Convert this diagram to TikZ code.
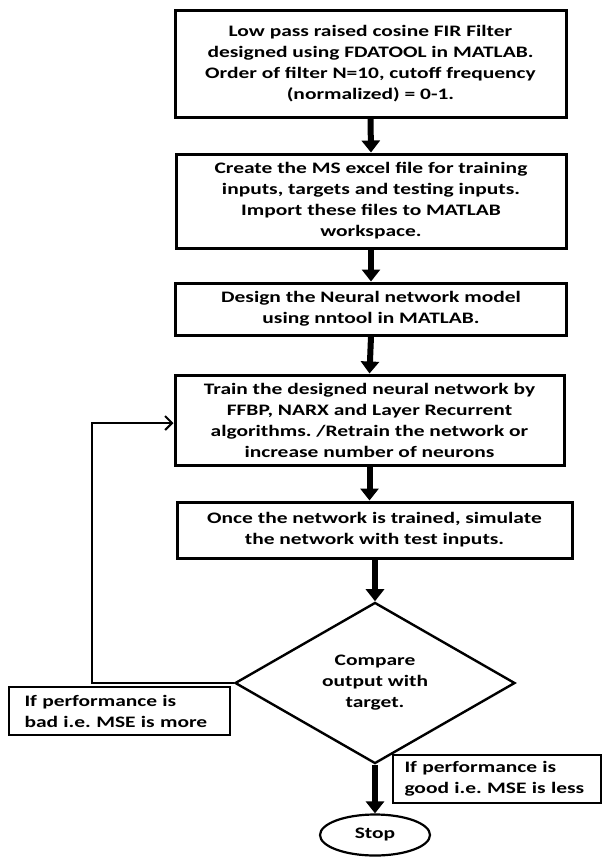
\documentclass[tikz,border=0pt]{standalone}
\usepackage{fontspec}
\setmainfont{Carlito}[FakeStretch=1.34]
\usetikzlibrary{arrows.meta,shapes.geometric,calc}
\tikzset{
  stepbox/.style={draw=black, line width=3pt, fill=white, align=center, inner sep=2pt,
    font=\bfseries\fontsize{16}{21}\selectfont},
  labelbox/.style={draw=black, line width=1.8pt, fill=white, align=left, inner sep=0pt,
    font=\bfseries\fontsize{16}{21}\selectfont},
  decision/.style={draw=black, line width=2.4pt, shape=diamond, inner sep=0pt, align=center,
    minimum width=280pt, minimum height=142pt, font=\bfseries\fontsize{16}{21}\selectfont},
  stopnode/.style={draw=black, line width=2.2pt, shape=ellipse, inner sep=0pt,
    minimum width=110pt, minimum height=41pt, font=\bfseries\fontsize{16}{21}\selectfont},
  bigarrow/.style={line width=6pt, -{Triangle[width=18pt,length=12pt]}},
  looparrow/.style={line width=2pt, -{Straight Barb[width=14pt,length=7pt,line width=2pt]}}
}
\frenchspacing
\begin{document}
\begin{tikzpicture}[x=1pt,y=-1pt]
\useasboundingbox[fill=white] (0,0) rectangle (603,857);

\node[stepbox, minimum width=391pt, minimum height=107pt] (b1) at (370.5,63.5)
  {Low pass raised cosine FIR Filter\\designed using FDATOOL in MATLAB.\\Order of filter N=10, cutoff frequency\\(normalized) = 0-1.};
\node[stepbox, minimum width=390pt, minimum height=94pt] (b2) at (371,201)
  {Create the MS excel file for training\\inputs, targets and testing inputs.\\Import these files to MATLAB\\workspace.};
\node[stepbox, minimum width=391pt, minimum height=52pt] (b3) at (371,309)
  {Design the Neural network model\\using nntool in MATLAB.};
\node[stepbox, minimum width=389pt, minimum height=90pt] (b4) at (369.5,420)
  {Train the designed neural network by\\FFBP, NARX and Layer Recurrent\\algorithms. /Retrain the network or\\increase number of neurons};
\node[stepbox, minimum width=395pt, minimum height=56pt] (b5) at (374.5,530)
  {Once the network is trained, simulate\\the network with test inputs.};
\node[decision] (dia) at (375,683) {Compare\\output with\\target.};
\node[stopnode] (stop) at (375,835) {Stop};

\node[labelbox, minimum width=221pt, minimum height=48pt, text width=190pt] (bad) at (119.5,711)
  {If performance is\\bad i.e. MSE is more};
\node[labelbox, minimum width=208pt, minimum height=48pt, text width=185pt] (good) at (497,779)
  {If performance is\\good i.e. MSE is less};

\draw[bigarrow] (b1.south) -- (b2.north);
\draw[bigarrow] (b2.south) -- (b3.north);
\draw[bigarrow] (b3.south) -- (b4.north);
\draw[bigarrow] (b4.south) -- (b4.south |- b5.north);
\draw[bigarrow] (b5.south -| dia.north) -- (dia.north);
\draw[bigarrow] (dia.south) -- (stop.north);

\coordinate (corner) at (92,683);
\draw[looparrow] (dia.west) -- (corner) |- ($(b4.west)+(0,3)$);
\end{tikzpicture}
\end{document}
